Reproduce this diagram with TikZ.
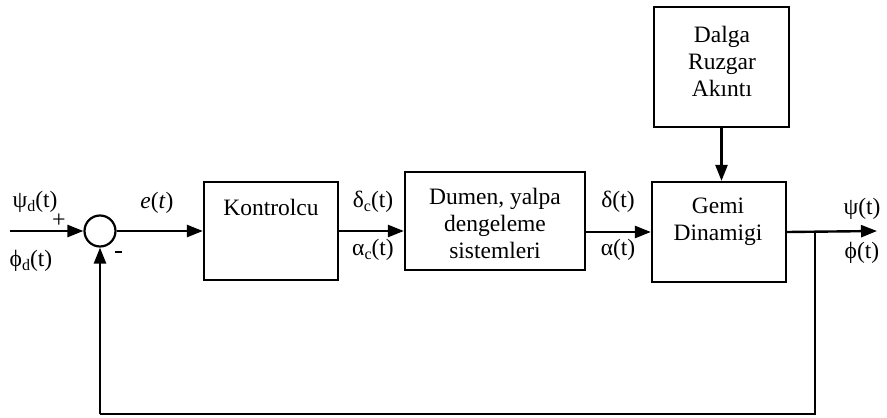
\documentclass[tikz,border=0pt]{standalone}
\usepackage{fontspec}
\setmainfont{Liberation Serif}
\usetikzlibrary{arrows.meta}
\newcommand\lowsub[1]{\raisebox{-0.35ex}{\fontsize{16}{16}\selectfont #1}}
\begin{document}
\begin{tikzpicture}[x=1pt,y=-1pt,
  every node/.style={font=\fontsize{23.5}{27}\selectfont, inner sep=0pt},
  blk/.style={draw, line width=2.2pt, fill=white},
  txt/.style={align=center},
  sig/.style={line width=2.4pt},
  arr/.style={sig, -{Triangle[length=16pt,width=12pt]}},
  small/.style={font=\fontsize{24}{24}\selectfont}]
\useasboundingbox (0,0) rectangle (887,418);

% blocks
\node[blk, minimum width=134pt, minimum height=98pt] (kont) at (271,231) {};
\node[blk, minimum width=180pt, minimum height=98pt] (dumen) at (495,221) {};
\node[blk, minimum width=134pt, minimum height=100pt] (gemi) at (719,232) {};
\node[blk, minimum width=135pt, minimum height=120pt] (dalga) at (721.5,67) {};
\node[draw, circle, line width=2.2pt, minimum size=31pt] (sum) at (100,231) {};

% block texts
\node[txt] (tkont) at (271,207) {Kontrolcu};
\node[txt] (tdumen) at (495,223) {Dumen, yalpa\\dengeleme\\sistemleri};
\node[txt] (tgemi) at (718,222) {Gemi\\Dinamigi};
\node[txt] (tdalga) at (722,61) {Dalga\\Ruzgar\\Akıntı};

% signal coordinates
\coordinate (in) at (10,231);
\coordinate (out) at (877,231);
\coordinate (br) at (815,231);
\coordinate (fbr) at (815,414);
\coordinate (fbl) at (100,414);

% connectors
\draw[arr] (in) -- (sum.west);
\draw[arr] (sum.east) -- (kont.west);
\draw[arr] (kont.east) -- (kont.east -| dumen.west);
\draw[arr] (dumen.east |- gemi.west) -- (gemi.west);
\draw[arr] (dalga.south) -- (gemi.north -| dalga.south);
\draw[arr] (gemi.east) -- (out);
\draw[sig, line join=miter] (br) -- (fbr) -- (fbl);
\draw[arr] (fbl) -- (sum.south);

% signal labels
\node (psid) at (35,202) {ψ\lowsub{d}(t)};
\node (phid) at (31,261) {ϕ\lowsub{d}(t)};
\node[small] (plus) at (59,221) {+};
\node (minus) at (118,252) {\rule{7pt}{2.6pt}};
\node (err) at (157,203) {\textit{e}(\textit{t})};
\node (dc) at (373,202) {δ\lowsub{c}(t)};
\node (ac) at (373,250) {α\lowsub{c}(t)};
\node (dl) at (618,202) {δ(t)};
\node (al) at (618,250) {α(t)};
\node (psi) at (862,209) {ψ(t)};
\node (phi) at (862,253) {ϕ(t)};
\end{tikzpicture}
\end{document}
